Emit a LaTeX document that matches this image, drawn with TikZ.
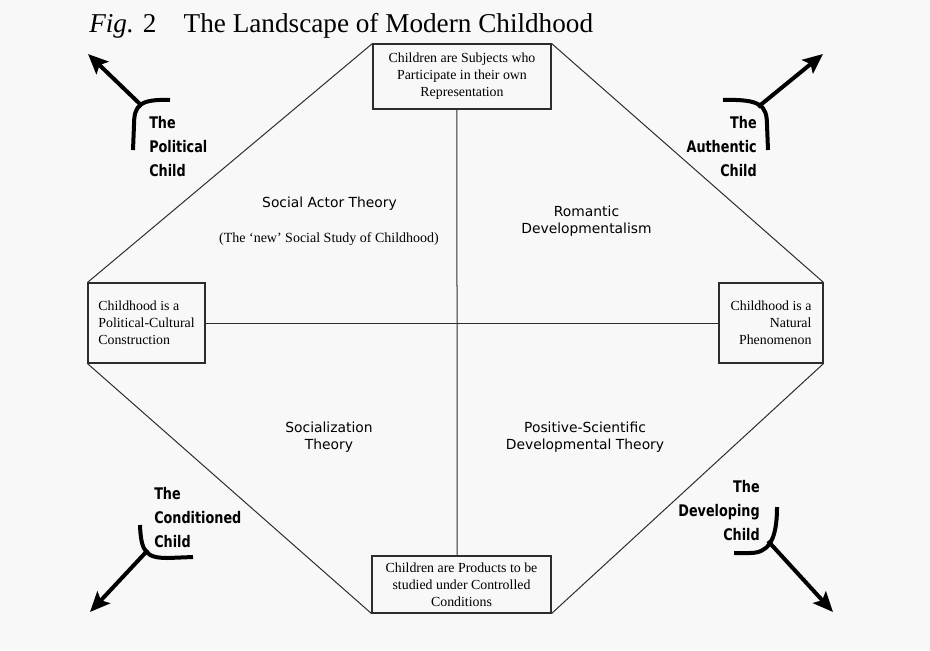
\documentclass[tikz,border=0pt]{standalone}
\usepackage{fontspec}
\setmainfont{Liberation Serif}
\newfontfamily\qsans{DejaVu Sans}
\newfontfamily\comic[FakeStretch=0.8]{DejaVu Sans}
\usetikzlibrary{arrows.meta,calc}
\definecolor{bg}{RGB}{248,248,248}
\definecolor{ln}{RGB}{45,45,45}
\begin{document}
\begin{tikzpicture}[x=0.75pt,y=-0.75pt,
  box/.style={draw=ln, line width=0.8pt, fill=bg, inner sep=0pt, align=center,
    font=\fontsize{10.4}{12.75}\selectfont},
  edge/.style={draw=ln, line width=0.75pt},
  quad/.style={font=\qsans\fontsize{10.4}{13}\selectfont, align=center, inner sep=0pt},
  serifnote/.style={font=\fontsize{10.5}{13}\selectfont, inner sep=0pt},
  kid/.style={font=\comic\bfseries\fontsize{12}{18}\selectfont, inner sep=0pt},
  hook/.style={line width=3pt, draw=black},
  bigarrow/.style={line width=3pt, draw=black, -{Stealth[length=15pt,width=13pt,inset=3pt]}}
]
\fill[bg] (0,0) rectangle (930,650);
\useasboundingbox (0,0) rectangle (930,650);

% title
\node[anchor=base west, inner sep=0pt, font=\fontsize{20.4}{24}\selectfont] (title) at (89,32)
  {\textit{Fig.} 2\quad The Landscape of Modern Childhood};

% boxes
\node[box, minimum width=133.5pt, minimum height=48.75pt] (top) at (462,76.5)
  {Children are Subjects who\\Participate in their own\\Representation};
\node[box, minimum width=134.25pt, minimum height=42.75pt] (bottom) at (461.5,584.5)
  {Children are Products to be\\studied under Controlled\\Conditions};
\node[box, minimum width=87.75pt, minimum height=60pt, align=left] (left) at (146.5,323)
  {Childhood is a\\Political-Cultural\\Construction};
\node[box, minimum width=78pt, minimum height=60pt, align=right] (right) at (771,323)
  {Childhood is a\\Natural\\Phenomenon};

% frame lines
\draw[edge] (top.north west) -- (left.north west);
\draw[edge] (top.north east) -- (right.north east);
\draw[edge] (left.south west) -- (bottom.south west);
\draw[edge] (right.south east) -- (bottom.south east);
\draw[edge] ($(top.south west)!0.472!(top.south east)$) -- ($(bottom.north west)!0.475!(bottom.north east)$);
\draw[edge] (left.east) -- (right.west);

% quadrant labels
\node[quad] (sat) at (329.5,204) {Social Actor Theory};
\node[serifnote] (sat2) at (329,239) {(The `new' Social Study of Childhood)};
\node[quad] (rd) at (586.5,221) {Romantic\\Developmentalism};
\node[quad] (st) at (329,437) {Socialization\\Theory};
\node[quad] (psd) at (585,437) {Positive-Scientific\\Developmental Theory};

% corner figures
\coordinate (pj) at (142,106);
\coordinate (pt) at (88,54);
\draw[hook] (170,100) .. controls (140,99) and (134,105) .. (134,125) -- (133,150);
\draw[bigarrow] (pj) -- (pt);
\node[kid, align=left, anchor=north west] (pol) at (149,116) {The\\Political\\Child};

\coordinate (aj) at (758,107);
\coordinate (at) at (823,54);
\draw[hook] (723,100) .. controls (760,99) and (767,105) .. (767,125) -- (768,150);
\draw[bigarrow] (aj) -- (at);
\node[kid, align=right, anchor=north east] (aut) at (757,116) {The\\Authentic\\Child};

\coordinate (cj) at (148,550);
\coordinate (ct) at (90,612);
\draw[hook] (140,525) .. controls (141,552) and (146,558) .. (168,558) -- (193,557);
\draw[bigarrow] (cj) -- (ct);
\node[kid, align=left, anchor=north west] (con) at (154,487) {The\\Conditioned\\Child};

\coordinate (dj) at (768,541);
\coordinate (dt) at (833,612);
\draw[hook] (777,507) .. controls (777,541) and (768,553) .. (750,553) -- (734,553);
\draw[bigarrow] (dj) -- (dt);
\node[kid, align=right, anchor=north east] (dev) at (760,480) {The\\Developing\\Child};
\end{tikzpicture}
\end{document}
